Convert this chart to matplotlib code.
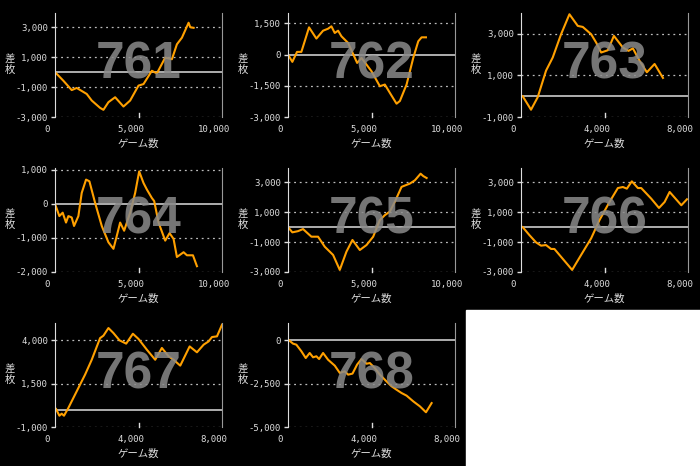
import matplotlib
matplotlib.use("Agg")
import matplotlib.pyplot as plt
import matplotlib.transforms as mtrans
from matplotlib.patches import Rectangle

names = ["761", "762", "763", "764", "765", "766", "767", "768"]
x761 = [0,500,1000,1300,1900,2200,2700,2900,3200,3600,4100,4500,5000,5300,5800,6100,6600,7000,7300,7600,8000,8100,8300]
y761 = [0,-575,-1200,-1060,-1460,-1900,-2390,-2520,-2010,-1680,-2300,-1900,-900,-800,90,-90,970,860,1860,2300,3300,3000,2960]
x762 = [0,260,540,800,1000,1260,1700,2100,2400,2600,2800,3000,3200,3600,4140,4400,5000,5500,5800,6100,6500,6700,7100,7500,7800,8000,8260]
y762 = [0,-350,130,130,640,1310,770,1150,1245,1360,1040,1150,880,560,-400,-160,-800,-1520,-1440,-1840,-2360,-2230,-1440,-160,640,830,830]
x763 = [80,480,800,1200,1520,1920,2320,2720,2960,3360,3600,3840,4160,4450,4880,5150,5360,5680,6030,6400,6800]
y763 = [0,-650,-50,1230,1860,2980,3940,3380,3330,2980,2580,2100,2210,2900,2340,2180,2300,1700,1150,1550,880]
x764 = [0,260,460,660,800,1000,1140,1400,1600,1860,2060,2400,2800,3200,3500,3700,3900,4140,4500,4800,5040,5300,5500,5800,5940,6200,6600,6860,7100,7300,7700,7900,8260,8500]
y764 = [0,-360,-260,-550,-360,-400,-650,-360,320,710,660,30,-650,-1130,-1320,-940,-550,-790,-260,320,950,610,420,170,80,-550,-1080,-860,-1030,-1560,-1420,-1510,-1510,-1830]
x765 = [0,260,600,900,1400,1800,2200,2700,3100,3500,3860,4300,4700,5100,5500,5800,6100,6400,6800,7300,7600,7940,8100,8300]
y765 = [0,-350,-270,-130,-640,-640,-1310,-1860,-2860,-1640,-860,-1530,-1200,-640,470,800,1040,1700,2690,2910,3130,3570,3410,3280]
x766 = [80,400,720,960,1200,1440,1600,2450,2880,3360,3760,4240,4640,4880,5070,5310,5600,5760,6240,6610,6880,7120,7680,7950]
y766 = [0,-530,-1020,-1240,-1200,-1460,-1460,-2860,-1860,-750,470,1680,2610,2680,2570,3060,2610,2610,1900,1280,1680,2350,1460,1860]
x767 = [50,210,320,430,640,1040,1440,1760,2160,2320,2560,2800,3090,3410,3730,4000,4400,4800,5120,5440,5680,6000,6450,6800,7120,7360,7520,7760,8000]
y767 = [40,-350,-230,-350,100,1060,2020,2880,4130,4270,4710,4420,4000,3810,4380,4080,3460,2880,3560,3080,2880,2540,3650,3310,3750,3940,4190,4230,4900]
x768 = [50,240,400,640,850,1040,1200,1360,1490,1680,1920,2240,2480,2720,2880,3090,3310,3520,3760,3920,4160,4400,4720,4960,5200,5440,5680,6000,6320,6610,6880]
y768 = [0,-190,-250,-630,-1020,-730,-980,-920,-1080,-730,-1120,-1460,-1880,-1790,-1980,-1920,-1400,-1080,-1350,-1310,-1600,-1980,-2370,-2650,-2850,-3040,-3190,-3520,-3810,-4150,-3620]

xs = [x761, x762, x763, x764, x765, x766, x767, x768]
ys = [y761, y762, y763, y764, y765, y766, y767, y768]
xmaxs = [10000, 10000, 8000, 10000, 10000, 8000, 8000, 8000]
yticks = [[-3000,-1000,1000,3000],[-3000,-1500,0,1500],[-1000,1000,3000],[-2000,-1000,0,1000],
          [-3000,-1000,1000,3000],[-3000,-1000,1000,3000],[-1000,1500,4000],[-5000,-2500,0]]
ylims = [(-3000,3950),(-3000,2000),(-1000,4000),(-2000,1050),(-3000,3950),(-3000,3950),(-1000,5000),(-5000,1000)]

W, H = 700, 466
fig = plt.figure(figsize=(7, 4.66), dpi=100, facecolor="black")
fig.patches.append(Rectangle((466/W, 0), 234/W, 156/H, transform=fig.transFigure, color="white", zorder=0))
jp = ["Noto Sans CJK JP", "DejaVu Sans"]
shift = mtrans.ScaledTranslation(-8/100, 0, fig.dpi_scale_trans)
for i in range(8):
    r, c = divmod(i, 3)
    left = c*233 + 55
    top = r*155 + 13
    ax = fig.add_axes([left/W, 1-(top+104)/H, 167/W, 104/H], facecolor="black")
    xm = xmaxs[i]
    ax.set_xlim(0, xm)
    ax.set_ylim(*ylims[i])
    for s in ["top", "bottom"]:
        ax.spines[s].set_visible(False)
    ax.spines["left"].set_color("#dddddd")
    ax.spines["right"].set_color("#999999")
    ax.set_yticks(yticks[i])
    ax.set_yticklabels([f"{v:,}" for v in yticks[i]])
    ax.set_xticks([0, xm/2, xm])
    ax.set_xticklabels([f"{int(v):,}" for v in [0, xm/2, xm]])
    ax.tick_params(axis="y", colors="#dddddd", labelsize=6.5, length=3, width=1, pad=2)
    ax.tick_params(axis="x", colors="#dddddd", labelsize=6.5, length=0, pad=6)
    for lab in ax.get_xticklabels() + ax.get_yticklabels():
        lab.set_family("DejaVu Sans Mono")
    for lab in ax.get_xticklabels():
        lab.set_transform(lab.get_transform() + shift)
    for v in yticks[i]:
        if v != 0:
            ax.axhline(v, color="#bbbbbb", lw=0.9, ls=(0, (1.5, 3)), zorder=1)
    ax.axhline(0, color="#cccccc", lw=1.2, zorder=1)
    ax.plot([xm/2, xm/2], [ylims[i][0], ylims[i][0] + (ylims[i][1]-ylims[i][0])*0.04], color="#dddddd", lw=1, clip_on=False)
    ax.plot(xs[i], ys[i], color="#ffa000", lw=1.5, zorder=2)
    ax.text(0.5, 0.5, names[i], transform=ax.transAxes, ha="center", va="center",
            fontsize=37, fontweight="bold", family="Liberation Sans", color="#8a8a8a", alpha=0.85, zorder=3)
    ax.set_xlabel("ゲーム数", family=jp, color="#dddddd", fontsize=7.5, labelpad=3)
    ax.text(-0.27, 0.5, "差\n枚", transform=ax.transAxes, ha="center", va="center",
            family=jp, color="#dddddd", fontsize=7.5, linespacing=1.0)
fig.savefig("out.png", dpi=100, facecolor="black")
